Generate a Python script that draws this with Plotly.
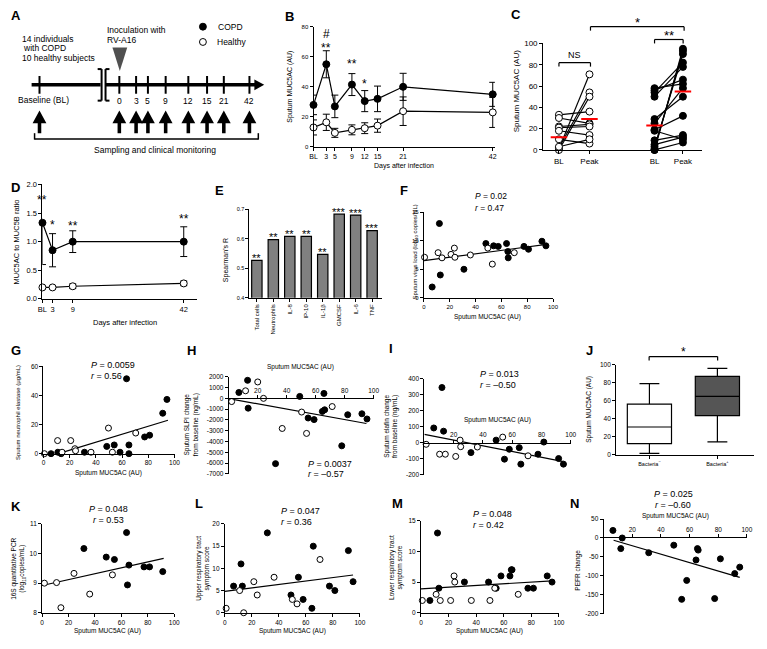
import plotly.graph_objects as go

W, H = 767, 649
FONT = "Liberation Sans, Arial, Helvetica, sans-serif"


def fx(px):
    return px / W


def fy(py):
    return 1 - py / H


# ======================= DATA =======================
# Panel A (schematic)
A_day_labels = ["0", "3", "5", "9", "12", "15", "21", "42"]

# Panel B
B_days = [0, 3, 5, 9, 12, 15, 21, 42]
B_ticklabels = ["BL", "3", "5", "9", "12", "15", "21", "42"]
B_copd = [28, 55, 27, 41.5, 30.5, 32, 40, 35]
B_copd_err = [6.5, 9, 7.5, 7.3, 7, 8.5, 9, 8]
B_healthy = [13, 16.4, 9.4, 11.4, 12.5, 14.2, 23.8, 23]
B_healthy_err = [5, 5.4, 3, 3.3, 3.6, 4.4, 9.5, 10]
B_sig_day = [3, 3, 9, 12]
B_sig_val = [75, 66, 55, 42]
B_sig_txt = ["#", "**", "**", "*"]

# Panel C
C_ticklabels = ["BL", "Peak", "BL", "Peak"]
C_h_bl = [1, 2, 0, 33, 30, 22, 21, 18, 10, 3]
C_h_peak = [71, 54, 50, 36, 25, 24, 22, 14, 6, 10]
C_c_bl = [58, 56, 54, 50, 29, 25, 19, 18, 9, 5, 3, 1, 0, 0]
C_c_peak = [62, 66, 82, 78, 50, 58, 32, 10, 14, 12, 90, 93, 95, 7]
C_medians = [12, 29, 23, 55]

# Panel D
D_days = [0, 3, 9, 42]
D_ticklabels = ["BL", "3", "9", "42"]
D_copd = [1.33, 0.85, 1.0, 1.0]
D_copd_err_up = [0.0, 0.29, 0.19, 0.26]
D_copd_err_dn = [0.73, 0.29, 0.19, 0.26]
D_healthy = [0.2, 0.2, 0.22, 0.27]
D_healthy_err = [0.02, 0.02, 0.04, 0.04]
D_sig_val = [1.72, 1.3, 1.28, 1.4]
D_sig_txt = ["**", "*", "**", "**"]

# Panel E
E_labels = ["Total cells", "Neutrophils", "IL-8", "IP-10", "IL-1β", "GMCSF", "IL-6", "TNF"]
E_vals = [0.527, 0.597, 0.608, 0.608, 0.547, 0.683, 0.68, 0.627]
E_sig = ["**", "**", "**", "**", "**", "***", "***", "***"]

# Panel F
F_copd_x = [12, 6.4, 12.7, 31, 48, 54, 57.6, 64, 65, 65.3, 77.5, 81, 91.4, 94.5]
F_copd_y = [13, 1.9, 4, 5, 9.5, 9.1, 9, 9.5, 8.1, 7, 9, 8.5, 9.9, 9.1]
F_h_x = [0.5, 11, 14, 21, 23.6, 24, 36, 49.5, 53, 70]
F_h_y = [7.1, 7.9, 7, 7.6, 8.7, 7.1, 7.5, 8.7, 5.9, 7.9]
F_fit_x = [0, 95]
F_fit_y = [6.5, 9.35]

# Panel G
G_copd_x = [5.8, 11, 13.5, 31.3, 48.3, 54, 58.4, 65.2, 65.2, 77.2, 81, 91, 63.4, 94.2]
G_copd_y = [0, 1, 0, 1, 5, 6, 1, 6, 0, 11.5, 12.7, 27.8, 51.5, 37.3]
G_h_x = [0.75, 10.8, 20.8, 24, 24.5, 36.3, 49.6, 52.6, 70.4, 14.2]
G_h_y = [0, 9, 9, 3.4, 2, 1, 17.6, 1, 14.2, 1]
G_fit_x = [12, 95]
G_fit_y = [0.2, 23]

# Panel H
H_copd_x = [13.4, 32.3, 54.8, 58.9, 64.6, 66.2, 78, 82.1, 91.9, 95.4, 13, 7, 49, 65.7]
H_copd_y = [-910, -6050, -1820, -1970, -1210, -1060, -4400, -1520, -1430, -1910, 1670, 545, 180, 455]
H_h_x = [11.6, 20, 2, 71.4, 24, 36.9, 50.3, 53.7]
H_h_y = [700, 1520, -300, -760, 0, -2790, -1270, -3250]
H_fit_x = [0, 95]
H_fit_y = [-30, -2330]
H_yticks = [2000, 1000, 0, -1000, -2000, -3000, -4000, -5000, -6000, -7000]

# Panel I
I_copd_x = [6.4, 13.1, 31.8, 49, 54.7, 58, 64.8, 65.9, 77.6, 81.6, 91.7, 95, 12]
I_copd_y = [92, 72, -62, 16, -103, -41, -31, -134, -72, 4, -99, -134, 345]
I_h_x = [1.2, 10.4, 14.3, 21.4, 24.4, 24.8, 36.2, 53.5, 70.8]
I_h_y = [-10, -72, -72, -86, 16, -25, -27, 35, -82]
I_fit_x = [0, 95]
I_fit_y = [52, -118]
I_yticks = [400, 300, 200, 100, 0, -100, -200]

# Panel J
J_labels = ["Bacteria<sup>−</sup>", "Bacteria<sup>+</sup>"]
J_min = [1.7, 14.5]
J_q1 = [12.5, 43.5]
J_med = [31, 65]
J_q3 = [56.4, 87]
J_max = [79, 96]

# Panel K
K_copd_x = [48.5, 54.7, 65.7, 64.6, 77.1, 81.3, 91.3, 31.6, 63.9]
K_copd_y = [9.88, 9.8, 9.61, 8.94, 9.55, 9.55, 9.39, 10.17, 10.71]
K_h_x = [1.7, 10.9, 14.2, 24.1, 36, 53.2]
K_h_y = [9.0, 9.02, 8.17, 9.33, 8.63, 9.28]
K_fit_x = [0, 92]
K_fit_y = [8.92, 9.84]

# Panel L
L_copd_x = [6.5, 12, 13, 31.5, 49, 54.5, 58, 64.5, 65.5, 77.5, 81.5, 91.5, 95]
L_copd_y = [6, 11, 6, 18, 4, 8, 3, 1, 15, 6, 5, 14, 7]
L_h_x = [1, 11, 14, 21.5, 24, 36.5, 50, 53.5, 70.5]
L_h_y = [1, 5, 0, 7, 4, 8, 3, 2, 12]
L_fit_x = [0, 95]
L_fit_y = [4.8, 8.5]

# Panel M
M_copd_x = [6.5, 12, 13, 31.5, 49, 54.5, 58, 64.5, 65.5, 66, 77.5, 81.5, 91.5, 95]
M_copd_y = [2, 13, 4, 5, 5, 4, 6, 6, 7, 7, 4, 4, 6, 5]
M_h_x = [1, 11, 14, 21.5, 24, 24.5, 36.5, 50, 53.5, 70.5]
M_h_y = [2, 3, 2, 2, 6, 5, 2, 2, 4, 3]
M_fit_x = [0, 95]
M_fit_y = [3.9, 5.2]

# Panel N
N_x = [6.5, 12, 13, 31.5, 49, 54.5, 58, 64.5, 65.5, 66, 77.5, 81.5, 91.5, 95]
N_y = [20, -28, 0, -39, -19, -162, -112, -58, -28, -32, -160, -55, -94, -77]
N_fit_x = [7, 95]
N_fit_y = [-6, -104]
N_yticks = [50, 0, -50, -100, -150, -200]

# ======================= FIGURE =======================
fig = go.Figure()
axes = {}
shapes = []
annos = []

AX = dict(showline=True, linecolor="black", linewidth=1, ticks="outside", ticklen=3,
          tickwidth=1, tickcolor="black", showgrid=False, zeroline=False,
          fixedrange=True)


def tf(size):
    return dict(family=FONT, size=size, color="black")


def setup(k, xpx, ypx, xr, yr, xkw=None, ykw=None):
    s = "" if k == 1 else str(k)
    dx = dict(AX, domain=[fx(xpx[0]), fx(xpx[1])], range=xr, anchor="y" + s, tickfont=tf(6.5))
    dy = dict(AX, domain=[fy(ypx[0]), fy(ypx[1])], range=yr, anchor="x" + s, tickfont=tf(6.5))
    dx.update(xkw or {})
    dy.update(ykw or {})
    axes["xaxis" + s] = dx
    axes["yaxis" + s] = dy
    return ("x" + s, "y" + s)


def scat(ax, x, y, filled, size=6, mode="markers", err=None):
    fig.add_trace(go.Scatter(
        x=x, y=y, mode=mode, xaxis=ax[0], yaxis=ax[1],
        marker=dict(size=size, color="black" if filled else "white",
                    line=dict(color="black", width=1)),
        line=dict(color="black", width=1.2),
        error_y=err, cliponaxis=False, showlegend=False, hoverinfo="skip"))


def fit(ax, x, y):
    fig.add_trace(go.Scatter(x=x, y=y, mode="lines", xaxis=ax[0], yaxis=ax[1],
                             line=dict(color="black", width=1.2), cliponaxis=False,
                             showlegend=False, hoverinfo="skip"))


def txt(x, y, s, size=8.5, xanchor="center", angle=0, bold=False, yanchor="middle"):
    if bold:
        s = "<b>" + s + "</b>"
    annos.append(dict(x=fx(x), y=fy(y), xref="paper", yref="paper", text=s, showarrow=False,
                      xanchor=xanchor, yanchor=yanchor, textangle=angle,
                      font=tf(size)))


def dtxt(ax, x, y, s, size=12):
    annos.append(dict(x=x, y=y, xref=ax[0], yref=ax[1], text=s, showarrow=False,
                      xanchor="center", yanchor="middle", font=tf(size)))


def pline(x0, y0, x1, y1, w=1, color="black"):
    shapes.append(dict(type="line", xref="paper", yref="paper", x0=fx(x0), y0=fy(y0),
                       x1=fx(x1), y1=fy(y1), line=dict(color=color, width=w)))


def ppath(pts, fill="black"):
    p = "M " + " L ".join("%.5f,%.5f" % (fx(a), fy(b)) for a, b in pts) + " Z"
    shapes.append(dict(type="path", xref="paper", yref="paper", path=p,
                       fillcolor=fill, line=dict(width=0)))


def bracket(x0, x1, y, drop=4, w=1.2):
    pline(x0, y, x1, y, w)
    pline(x0, y, x0, y + drop, w)
    pline(x1, y, x1, y + drop, w)


# ---------------- Panel A (schematic) ----------------
A_x = [116, 133, 145, 163, 186, 205, 222, 248]
pline(27, 82, 97, 82, 3.5)
pline(102, 82, 255, 82, 3.5)
ppath([(253, 76.5), (263, 82), (253, 87.5)])
pline(98, 66, 98, 98, 2)
pline(94, 66, 98, 66, 2)
pline(94, 98, 98, 98, 2)
pline(102, 66, 102, 98, 2)
pline(102, 66, 106, 66, 2)
pline(102, 98, 106, 98, 2)
for xx in [35] + A_x:
    pline(xx, 73, xx, 91, 2)
    ppath([(xx, 108), (xx + 7, 121), (xx + 1.8, 121), (xx + 1.8, 131), (xx - 1.8, 131),
           (xx - 1.8, 121), (xx - 7, 121)])
for xx, lab in zip(A_x, A_day_labels):
    txt(xx, 98, lab, 8.5)
txt(39, 97.5, "Baseline (BL)", 8.5)
pline(30, 137, 257, 137, 1.5)
pline(30, 131, 30, 137.5, 1.5)
pline(257, 131, 257, 137.5, 1.5)
txt(152, 148, "Sampling and clinical monitoring", 8.5)
ppath([(109, 44), (124, 44), (116.5, 68)], fill="#505050")
txt(101, 26, "Inoculation with", 8.5, xanchor="left")
txt(101, 37, "RV-A16", 8.5, xanchor="left")
txt(15, 35, "14 individuals", 8.5, xanchor="left")
txt(16, 44.5, "with COPD", 8.5, xanchor="left")
txt(15, 55, "10 healthy subjects", 8.5, xanchor="left")
shapes.append(dict(type="circle", xref="paper", yref="paper", x0=fx(197.3), x1=fx(204.3),
                   y0=fy(26.5), y1=fy(19.5), fillcolor="black", line=dict(color="black", width=1)))
shapes.append(dict(type="circle", xref="paper", yref="paper", x0=fx(197.3), x1=fx(204.3),
                   y0=fy(42), y1=fy(35), fillcolor="white", line=dict(color="black", width=1)))
txt(214, 23, "COPD", 8.5, xanchor="left")
txt(213, 38.5, "Healthy", 8.5, xanchor="left")

# ---------------- Panel B ----------------
aB = setup(1, (313, 497), (145, 23), [0, 42.5], [0, 80],
           xkw=dict(tickvals=B_days, ticktext=B_ticklabels, tickfont=tf(7)),
           ykw=dict(tickvals=[0, 20, 40, 60, 80], tickfont=tf(6)))
scat(aB, B_days, B_copd, True, 7, "lines+markers",
     dict(type="data", array=B_copd_err, color="black", thickness=1, width=3.5))
scat(aB, B_days, B_healthy, False, 7, "lines+markers",
     dict(type="data", array=B_healthy_err, color="black", thickness=1, width=3.5))
for d, v, s in zip(B_sig_day, B_sig_val, B_sig_txt):
    dtxt(aB, d, v, s, 12)
txt(289, 84, "Sputum MUC5AC (AU)", 7, angle=-90)
txt(405, 164, "Days after infection", 7)

# ---------------- Panel C ----------------
C_pos = [1, 2, 4.13, 5.06]
aC = setup(2, (546, 707), (148, 40), [0.484, 5.68], [0, 100],
           xkw=dict(tickvals=C_pos, ticktext=C_ticklabels, tickfont=tf(8)),
           ykw=dict(tickvals=[0, 20, 40, 60, 80, 100], tickfont=tf(8)))
for bl, pk in zip(C_h_bl, C_h_peak):
    fit(aC, [C_pos[0], C_pos[1]], [bl, pk])
for bl, pk in zip(C_c_bl, C_c_peak):
    fit(aC, [C_pos[2], C_pos[3]], [bl, pk])
scat(aC, [C_pos[0]] * len(C_h_bl) + [C_pos[1]] * len(C_h_peak), C_h_bl + C_h_peak, False, 7)
scat(aC, [C_pos[2]] * len(C_c_bl) + [C_pos[3]] * len(C_c_peak), C_c_bl + C_c_peak, True, 7)
for p, m in zip(C_pos, C_medians):
    fig.add_trace(go.Scatter(x=[p - 0.27, p + 0.27], y=[m, m], mode="lines", xaxis=aC[0],
                             yaxis=aC[1], line=dict(color="red", width=2), cliponaxis=False,
                             showlegend=False, hoverinfo="skip"))
bracket(562, 594, 59.5)
txt(578, 52, "NS", 9)
bracket(659, 688, 36)
txt(673.5, 32, "**", 13)
bracket(594, 689, 23)
txt(641.5, 19, "*", 13)
txt(519, 88, "Sputum MUC5AC (AU)", 8, angle=-90)

# ---------------- Panel D ----------------
aD = setup(3, (38, 195), (299, 183), [0, 46], [0, 2],
           xkw=dict(tickvals=D_days, ticktext=D_ticklabels, tickfont=tf(7.5)),
           ykw=dict(tickvals=[0, 0.5, 1, 1.5, 2], tickformat=".1f", tickfont=tf(7.5)))
scat(aD, D_days, D_copd, True, 7, "lines+markers",
     dict(type="data", symmetric=False, array=D_copd_err_up, arrayminus=D_copd_err_dn,
          color="black", thickness=1, width=3.5))
scat(aD, D_days, D_healthy, False, 7, "lines+markers",
     dict(type="data", array=D_healthy_err, color="black", thickness=1, width=3.5))
for d, v, s in zip(D_days, D_sig_val, D_sig_txt):
    dtxt(aD, d, v, s, 12)
txt(12, 241, "MUC5AC to MUC5B ratio", 7.5, angle=-90)
txt(122, 323, "Days after infection", 7.5)

# ---------------- Panel E ----------------
aE = setup(4, (248, 382), (298, 208), [-0.45, 7.57], [0.4, 0.7],
           xkw=dict(tickvals=list(range(8)), ticktext=E_labels, tickangle=-90, tickfont=tf(6)),
           ykw=dict(tickvals=[0.4, 0.5, 0.6, 0.7], tickformat=".1f", tickfont=tf(5.5)))
fig.add_trace(go.Bar(x=list(range(8)), y=E_vals, xaxis=aE[0], yaxis=aE[1], width=0.63,
                     marker=dict(color="#808080", line=dict(color="black", width=1.2)),
                     showlegend=False, hoverinfo="skip"))
for i, (v, s) in enumerate(zip(E_vals, E_sig)):
    dtxt(aE, i, v + 0.008, s, 11)
txt(225, 260, "Spearman's R", 7, angle=-90)

# ---------------- Panel F ----------------
aF = setup(5, (425, 556), (298, 211), [0, 100], [0, 15],
           xkw=dict(tickvals=[0, 20, 40, 60, 80, 100], tickfont=tf(6)),
           ykw=dict(tickvals=[0, 5, 10, 15], tickfont=tf(6)))
fit(aF, F_fit_x, F_fit_y)
scat(aF, F_copd_x, F_copd_y, True)
scat(aF, F_h_x, F_h_y, False)
txt(475, 195, "<i>P</i> = 0.02", 8.5, xanchor="left")
txt(475, 207, "<i>r</i> = 0.47", 8.5, xanchor="left")
txt(416, 252, "Sputum virus load (log<sub>10</sub> copies/mL)", 6, angle=-90)
txt(490, 317, "Sputum MUC5AC (AU)", 6.5)

# ---------------- Panel G ----------------
aG = setup(6, (39, 172), (456, 367.5), [0, 100], [0, 60],
           xkw=dict(tickvals=[0, 20, 40, 60, 80, 100]),
           ykw=dict(tickvals=[0, 20, 40, 60]))
fit(aG, G_fit_x, G_fit_y)
scat(aG, G_copd_x, G_copd_y, True)
scat(aG, G_h_x, G_h_y, False)
txt(85, 366, "<i>P</i> = 0.0059", 9, xanchor="left")
txt(85, 377, "<i>r</i> = 0.56", 9, xanchor="left")
txt(13, 414, "Sputum neutrophil elastase (µg/mL)", 6, angle=-90)
txt(105, 476, "Sputum MUC5AC (AU)", 6.5)

# ---------------- Panel H ----------------
aH = setup(7, (227, 374), (476.5, 378), [0, 100], [-7000, 2000],
           xkw=dict(anchor="free", position=fy(400), side="top",
                    tickvals=[20, 40, 60, 80, 100]),
           ykw=dict(tickvals=H_yticks, ticktext=[str(v) for v in H_yticks]))
fit(aH, H_fit_x, H_fit_y)
scat(aH, H_copd_x, H_copd_y, True)
scat(aH, H_h_x, H_h_y, False)
txt(305, 466, "<i>P</i> = 0.0037", 9, xanchor="left")
txt(305, 477, "<i>r</i> = –0.57", 9, xanchor="left")
txt(189, 427, "Sputum SLPI change<br>from baseline (ng/mL)", 6.5, angle=-90)
txt(300, 368, "Sputum MUC5AC (AU)", 6.5)

# ---------------- Panel I ----------------
aI = setup(8, (425.5, 574), (477.3, 380), [0, 100], [-200, 400],
           xkw=dict(anchor="free", position=fy(445), side="top",
                    tickvals=[20, 40, 60, 80, 100]),
           ykw=dict(tickvals=I_yticks, ticktext=[str(v) for v in I_yticks]))
fit(aI, I_fit_x, I_fit_y)
scat(aI, I_copd_x, I_copd_y, True)
scat(aI, I_h_x, I_h_y, False)
txt(480, 375, "<i>P</i> = 0.013", 9, xanchor="left")
txt(480, 386, "<i>r</i> = –0.50", 9, xanchor="left")
txt(391.5, 428, "Sputum elafin change<br>from baseline (ng/mL)", 6.5, angle=-90)
txt(500, 422, "Sputum MUC5AC (AU)", 6.5)

# ---------------- Panel J ----------------
aJ = setup(9, (620, 760), (457.3, 365.8), [-0.49, 1.54], [0, 100],
           xkw=dict(tickvals=[0, 1], ticktext=J_labels, tickfont=tf(5.5)),
           ykw=dict(tickvals=[0, 20, 40, 60, 80, 100]))
for i, fill in enumerate(["white", "#555555"]):
    fig.add_trace(go.Box(x=[i], q1=[J_q1[i]], median=[J_med[i]], q3=[J_q3[i]],
                         lowerfence=[J_min[i]], upperfence=[J_max[i]], xaxis=aJ[0],
                         yaxis=aJ[1], width=0.65, whiskerwidth=0.45, fillcolor=fill,
                         line=dict(color="black", width=1.2), boxpoints=False,
                         showlegend=False, hoverinfo="skip"))
bracket(653.5, 723, 357.5)
txt(688, 353, "*", 12)
txt(593, 411, "Sputum MUC5AC (AU)", 6.5, angle=-90)

# ---------------- Panel K ----------------
aK = setup(10, (37.7, 171.7), (617.3, 527.3), [0, 100], [8, 11],
           xkw=dict(tickvals=[0, 20, 40, 60, 80, 100]),
           ykw=dict(tickvals=[8, 9, 10, 11]))
fit(aK, K_fit_x, K_fit_y)
scat(aK, K_copd_x, K_copd_y, True)
scat(aK, K_h_x, K_h_y, False)
txt(105, 512, "<i>P</i> = 0.048", 9)
txt(105, 523, "<i>r</i> = 0.53", 9)
txt(13, 573, "16S quantitative PCR<br>(log<sub>10</sub>copies/mL)", 6.5, angle=-90)
txt(104, 636, "Sputum MUC5AC (AU)", 6.5)

# ---------------- Panel L ----------------
aL = setup(11, (223, 360), (617.3, 527.3), [0, 100], [0, 20],
           xkw=dict(tickvals=[0, 20, 40, 60, 80, 100]),
           ykw=dict(tickvals=[0, 5, 10, 15, 20]))
fit(aL, L_fit_x, L_fit_y)
scat(aL, L_copd_x, L_copd_y, True)
scat(aL, L_h_x, L_h_y, False)
txt(278, 514, "<i>P</i> = 0.047", 9, xanchor="left")
txt(278, 525, "<i>r</i> = 0.36", 9, xanchor="left")
txt(200.5, 572, "Upper respiratory tract<br>symptom score", 6.5, angle=-90)
txt(292, 636, "Sputum MUC5AC (AU)", 6.5)

# ---------------- Panel M ----------------
aM = setup(12, (422, 562), (617.3, 524), [0, 100], [0, 15],
           xkw=dict(tickvals=[0, 20, 40, 60, 80, 100]),
           ykw=dict(tickvals=[0, 5, 10, 15]))
fit(aM, M_fit_x, M_fit_y)
scat(aM, M_copd_x, M_copd_y, True)
scat(aM, M_h_x, M_h_y, False)
txt(473, 517, "<i>P</i> = 0.048", 9, xanchor="left")
txt(473, 528, "<i>r</i> = 0.42", 9, xanchor="left")
txt(396.5, 571, "Lower respiratory tract<br>symptom score", 6.5, angle=-90)
txt(492, 636, "Sputum MUC5AC (AU)", 6.5)

# ---------------- Panel N ----------------
aN = setup(13, (607.3, 752.7), (618.3, 522.3), [0, 100], [-200, 50],
           xkw=dict(anchor="free", position=fy(541), side="top",
                    tickvals=[20, 40, 60, 80, 100]),
           ykw=dict(tickvals=N_yticks, ticktext=[str(v) for v in N_yticks]))
fit(aN, N_fit_x, N_fit_y)
scat(aN, N_x, N_y, True)
txt(678, 497, "<i>P</i> = 0.025", 9)
txt(678, 508, "<i>r</i> = –0.60", 9)
txt(581, 574, "PEFR change", 6.5, angle=-90)
txt(680, 519, "Sputum MUC5AC (AU)", 6.5)

# ---------------- Panel letters ----------------
for lab, (lx, ly) in {"A": (11, 12), "B": (289, 13), "C": (518, 11), "D": (11, 186),
                      "E": (218, 189), "F": (405, 189), "G": (11, 351), "H": (189, 351),
                      "I": (392, 349), "J": (593, 351), "K": (11, 510), "L": (197, 507),
                      "M": (398, 507), "N": (578, 507)}.items():
    txt(lx, ly, lab, 13, bold=True)

fig.update_layout(width=W, height=H, margin=dict(l=0, r=0, t=0, b=0),
                  paper_bgcolor="white", plot_bgcolor="rgba(0,0,0,0)",
                  showlegend=False, hovermode=False, boxmode="overlay",
                  font=tf(7), shapes=shapes, annotations=annos, **axes)
fig.write_html("out.html", config={"displayModeBar": False, "staticPlot": True},
               post_script="document.body.style.margin='0px';"
                           "document.body.style.padding='0px';"
                           "document.body.style.overflow='hidden';")
